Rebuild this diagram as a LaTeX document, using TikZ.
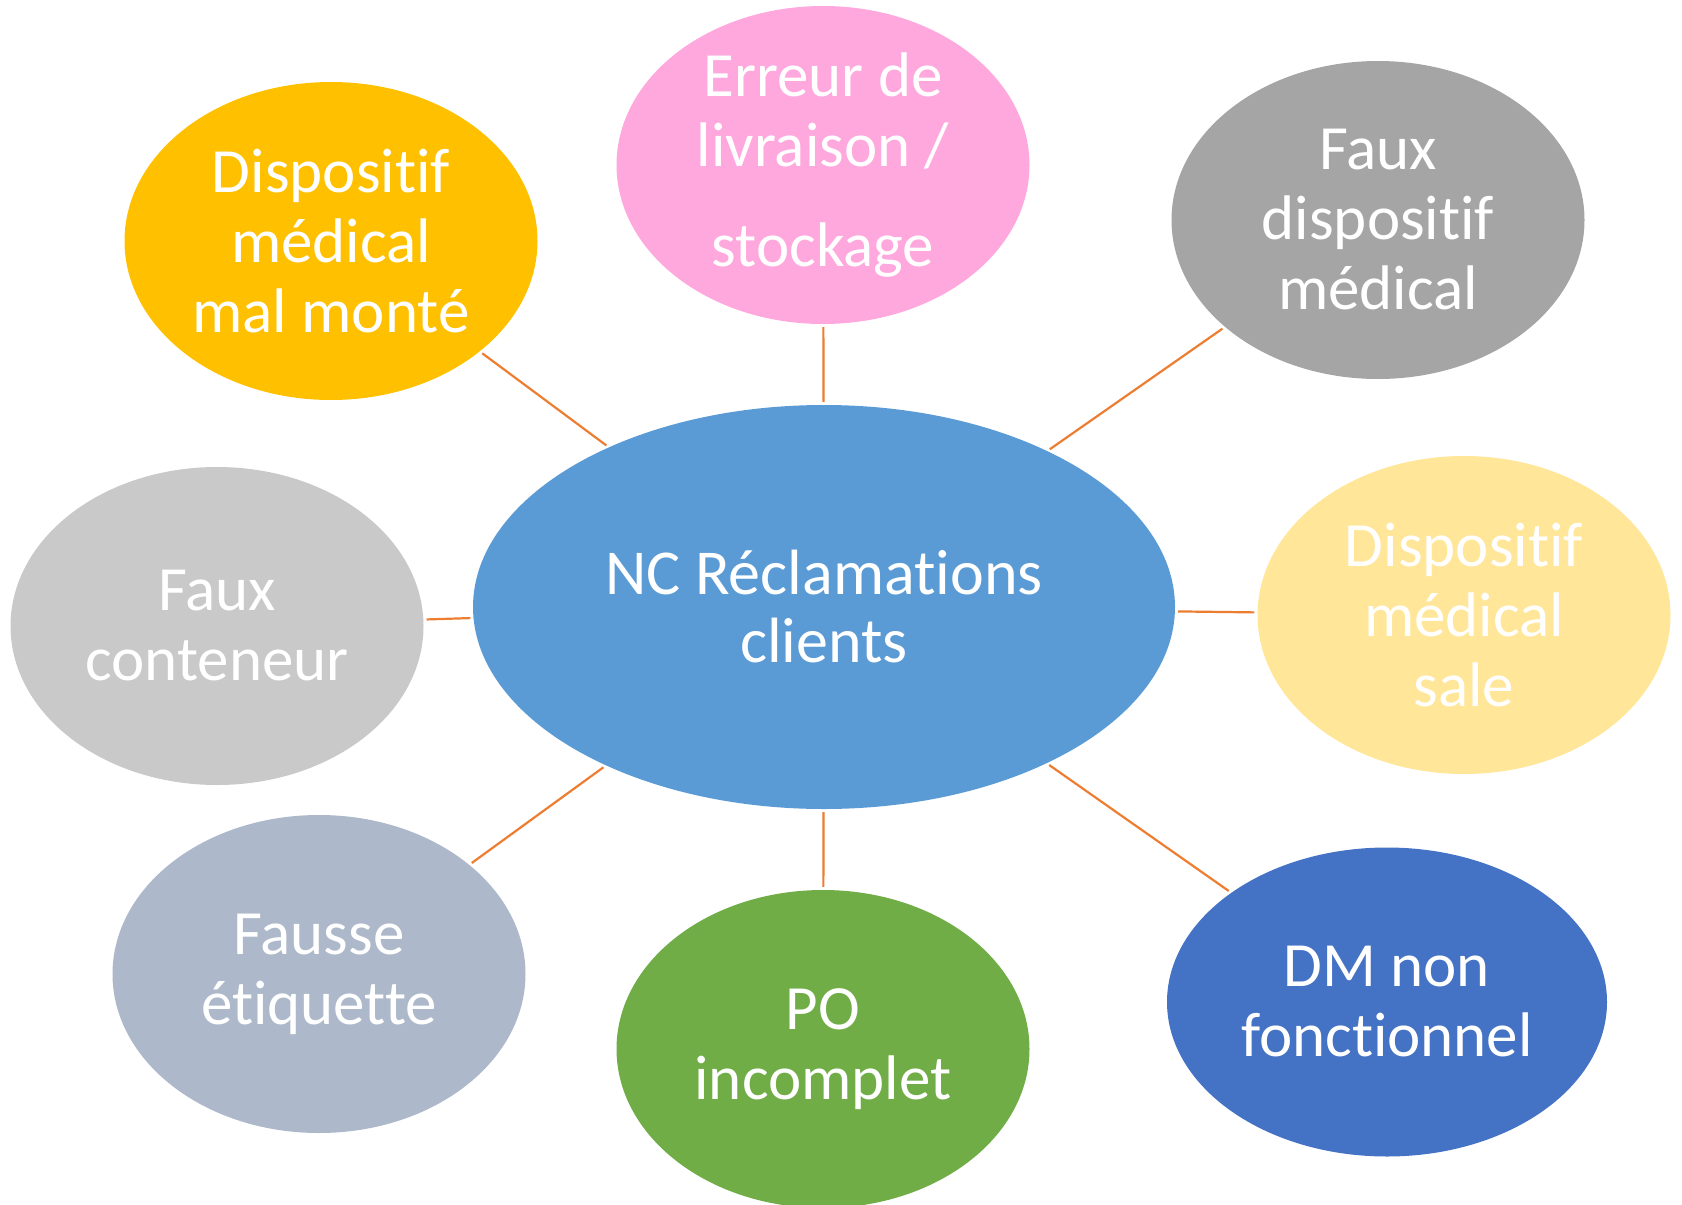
\documentclass[tikz,border=0pt]{standalone}
\usepackage{fontspec}
\setmainfont{Carlito}[RawFeature={-liga}]
\usetikzlibrary{shapes.geometric}
\definecolor{cCenter}{HTML}{5B9BD5}
\definecolor{cOrange}{HTML}{FFC000}
\definecolor{cPink}{HTML}{FFA8DE}
\definecolor{cGray}{HTML}{A5A5A5}
\definecolor{cYellow}{HTML}{FFE699}
\definecolor{cDBlue}{HTML}{4472C4}
\definecolor{cGreen}{HTML}{70AD47}
\definecolor{cBGray}{HTML}{ADB9CA}
\definecolor{cLGray}{HTML}{C9C9C9}
\definecolor{cLine}{HTML}{ED7D31}
\tikzset{
  bubble/.style={ellipse, draw=none, inner sep=0pt, minimum width=413pt, minimum height=318pt},
  lbl/.style={text=white, align=center, font=\fontsize{63}{70}\selectfont, inner sep=0pt},
  link/.style={draw=cLine, line width=2.2pt, shorten <=3pt, shorten >=3pt}
}
\begin{document}
\begin{tikzpicture}[x=1pt,y=-1pt]
\useasboundingbox (0,0) rectangle (1682,1205);
\node[bubble, fill=cCenter, minimum width=702pt, minimum height=404pt] (c) at (824,607) {};
\node[bubble, fill=cOrange] (s1) at (331,241) {};
\node[bubble, fill=cPink] (s2) at (823,165) {};
\node[bubble, fill=cGray] (s3) at (1378,220) {};
\node[bubble, fill=cYellow] (s4) at (1464,615) {};
\node[bubble, fill=cDBlue, minimum width=440pt, minimum height=309pt] (s5) at (1387,1002) {};
\node[bubble, fill=cGreen] (s6) at (823,1049) {};
\node[bubble, fill=cBGray] (s7) at (319,974) {};
\node[bubble, fill=cLGray] (s8) at (217,626) {};

\node[lbl, font=\fontsize{64}{68}\selectfont] (tc) at (c) {NC Réclamations\\clients};
\node[lbl] (t1) at (s1) {Dispositif\\médical\\mal monté};
\node[lbl] (t2) at (s2) {Erreur de\\livraison /\\[30pt]stockage};
\node[lbl] (t3) at (s3) {Faux\\dispositif\\médical};
\node[lbl] (t4) at (s4) {Dispositif\\médical\\sale};
\node[lbl] (t5) at (s5) {DM non\\fonctionnel};
\node[lbl] (t6) at (s6) {PO\\incomplet};
\node[lbl] (t7) at (s7) {Fausse\\étiquette};
\node[lbl] (t8) at (s8) {Faux\\conteneur};

\foreach \s in {s1,s2,s3,s4,s5,s6,s7,s8}
  \draw[link] (c) -- (\s);
\end{tikzpicture}
\end{document}
